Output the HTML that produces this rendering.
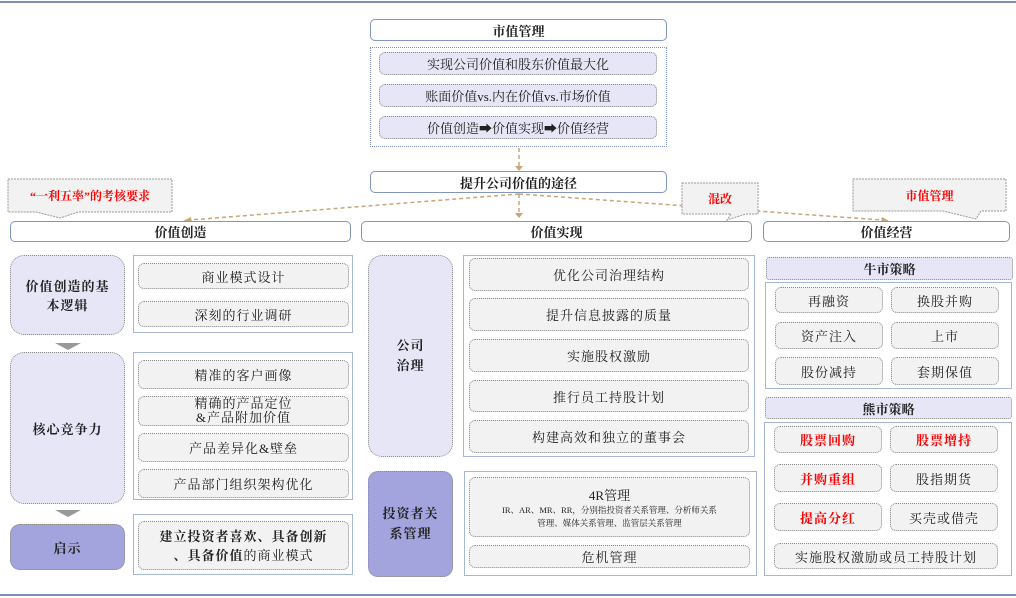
<!DOCTYPE html>
<html><head><meta charset="utf-8"><style>
body{margin:0;width:1016px;height:598px;background:#fff;position:relative;overflow:hidden;font-family:"Liberation Serif","Noto Serif CJK SC",serif;color:#222}
div{box-sizing:border-box;position:absolute}
.c{display:flex;align-items:center;justify-content:center;text-align:center}
.hd{border:1.5px solid #8496bf;border-radius:5px;background:#fff;font-weight:bold;font-size:13px}
.in{border:1.5px dotted #8a8a8a;border-radius:6px;background:#f2f2f2;font-size:13px;letter-spacing:1px}
.pu{border:1.5px dotted #8a8a8a;background:#e7e6f7;font-size:13px;font-weight:bold;border-radius:6px}
.ct{border:1.5px solid #a8b6d6;background:#fff}
.lb{border:1.5px dotted #8a8a8a;border-radius:14px;background:#e7e6f7;font-weight:bold;font-size:13px;letter-spacing:1px}
.dk{background:#a3a3dd;border-radius:10px}
.r{color:#f00;font-weight:bold}
.ar{width:0;height:0;border-left:13px solid transparent;border-right:13px solid transparent;border-top:7px solid #999}
</style></head><body>
<div style="left:0;top:1px;width:1016px;height:2px;background:#8090b8"></div>
<div style="left:0;top:594px;width:1016px;height:2px;background:#8090b8"></div>

<svg style="position:absolute;left:0;top:0" width="1016" height="598">
<g stroke="#c9a57a" stroke-width="1.5" stroke-dasharray="4,3" fill="none">
<line x1="519" y1="148" x2="519" y2="166"/>
<line x1="519" y1="194" x2="519" y2="213"/>
<line x1="519" y1="194" x2="190" y2="220"/>
<line x1="519" y1="194" x2="882" y2="220"/>
</g>
<g fill="#c9a57a">
<polygon points="515,166 523,166 519,171"/>
<polygon points="515,213 523,213 519,218"/>
<polygon points="191,217 192,223 183,221"/>
<polygon points="882,217 881,223 889,221"/>
</g>
<g fill="#f2f2f2" stroke="#999" stroke-width="1" stroke-dasharray="2,1">
<path d="M8,179 H172 V212 H78 L60,218 L36,212 H8 Z"/>
<path d="M682,183 H758 V214 H746 L727,220 L731,214 H682 Z"/>
<path d="M853,179 H1006 V211 H981 L976,219 L943,211 H853 Z"/>
</g>
</svg>
<div class="c r" style="left:8px;top:179px;width:164px;height:33px;font-size:12px">“一利五率”的考核要求</div>
<div class="c r" style="left:682px;top:183px;width:76px;height:31px;font-size:12px">混改</div>
<div class="c r" style="left:853px;top:179px;width:153px;height:32px;font-size:12px">市值管理</div>

<div class="hd c" style="left:370px;top:19px;width:297px;height:22px">市值管理</div>
<div style="left:370px;top:47px;width:297px;height:100px;border:1.5px dotted #8496bf"></div>
<div class="pu c" style="left:379px;top:52px;width:278px;height:23px;font-weight:normal">实现公司价值和股东价值最大化</div>
<div class="pu c" style="left:379px;top:84px;width:278px;height:23px;font-weight:normal">账面价值vs.内在价值vs.市场价值</div>
<div class="pu c" style="left:379px;top:116px;width:278px;height:23px;font-weight:normal">价值创造➡价值实现➡价值经营</div>
<div class="hd c" style="left:370px;top:171px;width:297px;height:22px">提升公司价值的途径</div>

<div class="hd c" style="left:10px;top:221px;width:341px;height:21px">价值创造</div>
<div class="hd c" style="left:361px;top:221px;width:391px;height:21px">价值实现</div>
<div class="hd c" style="left:763px;top:221px;width:247px;height:21px">价值经营</div>

<!-- left column -->
<div class="lb c" style="left:10px;top:255px;width:115px;height:80px;padding:0 8px">价值创造的基本逻辑</div>
<div class="ct" style="left:133px;top:255px;width:220px;height:78px"></div>
<div class="in c" style="left:138px;top:263px;width:211px;height:26px">商业模式设计</div>
<div class="in c" style="left:138px;top:301px;width:211px;height:26px">深刻的行业调研</div>
<div class="ar" style="left:55px;top:343px"></div>
<div class="lb c" style="left:10px;top:352px;width:115px;height:152px">核心竞争力</div>
<div class="ct" style="left:133px;top:352px;width:220px;height:148px"></div>
<div class="in c" style="left:138px;top:360px;width:211px;height:29px">精准的客户画像</div>
<div class="in c" style="left:138px;top:396px;width:211px;height:30px;line-height:14px">精确的产品定位<br>&amp;产品附加价值</div>
<div class="in c" style="left:138px;top:433px;width:211px;height:29px">产品差异化&amp;壁垒</div>
<div class="in c" style="left:138px;top:469px;width:211px;height:29px">产品部门组织架构优化</div>
<div class="ar" style="left:55px;top:510px"></div>
<div class="lb dk c" style="left:10px;top:524px;width:115px;height:46px">启示</div>
<div class="ct" style="left:133px;top:514px;width:220px;height:61px"></div>
<div class="in c" style="left:138px;top:521px;width:211px;height:49px;line-height:19px"><span><b>建立投资者喜欢、具备创新<br>、具备价值</b>的商业模式</span></div>

<!-- middle -->
<div class="lb c" style="left:368px;top:255px;width:85px;height:202px;line-height:20px">公司<br>治理</div>
<div class="ct" style="left:463px;top:255px;width:292px;height:202px"></div>
<div class="in c" style="left:469px;top:258px;width:280px;height:33px">优化公司治理结构</div>
<div class="in c" style="left:469px;top:298px;width:280px;height:33px">提升信息披露的质量</div>
<div class="in c" style="left:469px;top:339px;width:280px;height:33px">实施股权激励</div>
<div class="in c" style="left:469px;top:380px;width:280px;height:32px">推行员工持股计划</div>
<div class="in c" style="left:469px;top:420px;width:280px;height:33px">构建高效和独立的董事会</div>
<div class="lb dk c" style="left:368px;top:471px;width:85px;height:106px;line-height:20px">投资者关<br>系管理</div>
<div class="ct" style="left:464px;top:471px;width:293px;height:105px"></div>
<div class="in c" style="left:469px;top:477px;width:281px;height:60px;flex-direction:column;letter-spacing:0"><div style="position:static;font-size:13px">4R管理</div><div style="position:static;font-size:8.5px;line-height:13px">IR、AR、MR、RR，分别指投资者关系管理、分析师关系<br>管理、媒体关系管理、监管层关系管理</div></div>
<div class="in c" style="left:469px;top:545px;width:281px;height:23px">危机管理</div>

<!-- right -->
<div class="pu c" style="left:766px;top:257px;width:247px;height:23px;border-radius:3px">牛市策略</div>
<div class="ct" style="left:765px;top:282px;width:247px;height:107px"></div>
<div class="in c" style="left:775px;top:287px;width:108px;height:26px">再融资</div>
<div class="in c" style="left:891px;top:287px;width:108px;height:26px">换股并购</div>
<div class="in c" style="left:775px;top:322px;width:108px;height:27px">资产注入</div>
<div class="in c" style="left:891px;top:322px;width:108px;height:27px">上市</div>
<div class="in c" style="left:775px;top:357px;width:108px;height:28px">股份减持</div>
<div class="in c" style="left:891px;top:357px;width:108px;height:28px">套期保值</div>
<div class="pu c" style="left:765px;top:397px;width:247px;height:22px;border-radius:3px">熊市策略</div>
<div class="ct" style="left:764px;top:422px;width:248px;height:154px"></div>
<div class="in c r" style="left:774px;top:426px;width:108px;height:27px">股票回购</div>
<div class="in c r" style="left:890px;top:426px;width:108px;height:27px">股票增持</div>
<div class="in c r" style="left:774px;top:464px;width:108px;height:28px">并购重组</div>
<div class="in c" style="left:890px;top:464px;width:108px;height:28px">股指期货</div>
<div class="in c r" style="left:774px;top:503px;width:108px;height:28px">提高分红</div>
<div class="in c" style="left:890px;top:503px;width:108px;height:28px">买壳或借壳</div>
<div class="in c" style="left:774px;top:543px;width:224px;height:26px">实施股权激励或员工持股计划</div>
</body></html>
